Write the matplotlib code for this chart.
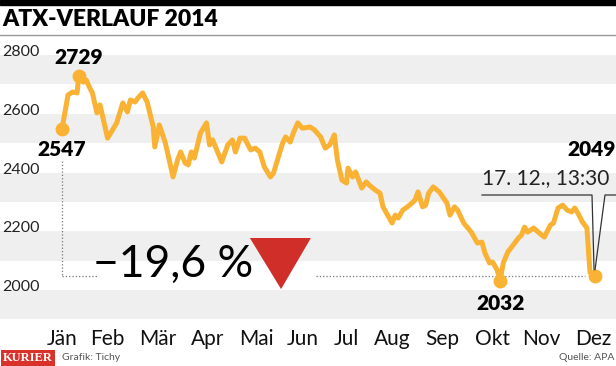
import numpy as np
import matplotlib.pyplot as plt
from matplotlib.patches import Rectangle
from matplotlib.lines import Line2D

# ATX closing values 2014 (day of year, index points)
days = [2, 6, 9, 12, 13, 16, 18, 20, 22, 25, 27, 29, 32, 38, 42, 45, 47, 50, 52, 55,
        58, 62, 63, 66, 70, 75, 78, 80, 83, 85, 87, 89, 93, 97, 99, 101, 107, 111, 114, 116,
        119, 122, 126, 129, 132, 135, 139, 141, 147, 149, 152, 154, 157, 160, 165, 168, 172, 175, 178, 181,
        183, 186, 189, 190, 193, 195, 199, 202, 204, 208, 211, 213, 216, 219, 221, 223, 226, 229, 232, 234,
        236, 239, 241, 243, 246, 250, 255, 257, 260, 262, 266, 271, 275, 278, 280, 283, 285, 288, 290, 292,
        295, 300, 302, 304, 306, 308, 312, 315, 319, 323, 325, 328, 331, 334, 337, 339, 341, 344, 347, 349,
        352]
values = [2547, 2664, 2674, 2671, 2729, 2708, 2715, 2691, 2671, 2603, 2630, 2586, 2517, 2569, 2637, 2606, 2647, 2640, 2654, 2671,
          2640, 2555, 2487, 2562, 2500, 2385, 2443, 2470, 2432, 2426, 2470, 2449, 2534, 2569, 2494, 2511, 2436, 2494, 2511, 2470,
          2517, 2517, 2477, 2483, 2470, 2419, 2385, 2398, 2500, 2521, 2504, 2534, 2569, 2551, 2555, 2545, 2521, 2483, 2494, 2528,
          2443, 2374, 2364, 2415, 2385, 2402, 2347, 2368, 2357, 2340, 2330, 2283, 2255, 2228, 2255, 2245, 2272, 2283, 2296, 2306,
          2334, 2283, 2289, 2330, 2351, 2334, 2296, 2255, 2283, 2272, 2228, 2197, 2160, 2163, 2126, 2092, 2095, 2068, 2032, 2092,
          2129, 2163, 2177, 2187, 2214, 2197, 2211, 2197, 2180, 2221, 2228, 2279, 2289, 2272, 2266, 2279, 2262, 2232, 2211, 2060,
          2049]

months = ['Jän', 'Feb', 'Mär', 'Apr', 'Mai', 'Jun', 'Jul', 'Aug', 'Sep', 'Okt', 'Nov', 'Dez']
month_pos = [2, 32, 65, 98, 130, 160, 189, 219, 252, 285, 317, 351]
yticks = [2000, 2200, 2400, 2600, 2800]
change = '\u221219,6 %'

narrow = ['Lato', 'DejaVu Sans']
orange = '#f9b233'

fig = plt.figure(figsize=(6.16, 3.66), dpi=100)
ax = fig.add_axes([0, 44 / 366, 1, 284 / 366])
ax.set_xlim(-38.7, 366.1)
ax.set_ylim(1891, 2858)

# background bands
for lo in range(1900, 2800, 200):
    ax.axhspan(lo, lo + 100, color='#efefef', lw=0, zorder=0)

for v in yticks:
    ax.annotate(str(v), xy=(0, v), xycoords=('axes fraction', 'data'),
                xytext=(2, 3), textcoords='offset pixels', va='center',
                fontsize=11.5, family=narrow, color='#222222')

# reference lines: start day and final value
i_min = int(np.argmin(values))
i_max = int(np.argmax(values))
ax.plot([days[0], days[0]], [2440, values[-1]], ls=':', color='#777777', lw=0.9, zorder=1)
ax.plot([days[0], 25], [values[-1]] * 2, ls=':', color='#777777', lw=0.9, zorder=1)
ax.plot([169, 346], [values[-1]] * 2, ls=':', color='#777777', lw=0.9, zorder=1)

ax.plot(days, values, color=orange, lw=3.6, solid_joinstyle='round', zorder=3)
for i in [0, i_max, i_min, len(days) - 1]:
    ax.plot(days[i], values[i], 'o', color=orange, ms=9, zorder=4)

bold = dict(family=narrow, weight='heavy', fontsize=15, color='black')
ax.annotate(str(values[0]), (days[0], values[0]), xytext=(0, -20), textcoords='offset pixels',
            ha='center', va='center', **bold)
ax.annotate(str(values[i_max]), (days[i_max], values[i_max]), xytext=(0, 18), textcoords='offset pixels',
            ha='center', va='center', **bold)
ax.annotate(str(values[i_min]), (days[i_min], values[i_min]), xytext=(0, -23), textcoords='offset pixels',
            ha='center', va='center', **bold)

# callout pointer down to the last value
px = lambda x: x / 616
py = lambda y: 1 - y / 366
fig.text(1.0, py(150), str(values[-1]), ha='right', va='center', **bold)
fig.text(px(482), py(178), '17. 12., 13:30', ha='left', va='center',
         fontsize=15, family=narrow, color='#222222')
fig.canvas.draw()
tip = fig.transFigure.inverted().transform(ax.transData.transform((days[-1], values[-1])))
tip_y = tip[1] + 6 / 366
fig.add_artist(Line2D([px(482), px(592), tip[0] - 0.5 / 616], [py(195), py(195), tip_y],
                      color='#333333', lw=0.9))
fig.add_artist(Line2D([px(616), px(605), tip[0] + 0.5 / 616], [py(195), py(195), tip_y],
                      color='#333333', lw=0.9))

# percentage change and red triangle
ax.text(75, 2088, change, ha='center', va='center', fontsize=32,
        family=narrow, color='black')
ax.fill([125.5, 165.6, 146], [2177, 2177, 2003], color='#cf2f28', lw=0, zorder=2)

ax.set_xticks(month_pos, months)
ax.tick_params(axis='x', length=0, pad=5, labelsize=15)
for t in ax.get_xticklabels():
    t.set_family(narrow)
    t.set_color('#111111')
ax.set_yticks([])
for s in ax.spines.values():
    s.set_visible(False)

# header
fig.add_artist(Rectangle((0, py(5)), 1, 5 / 366, transform=fig.transFigure, color='black'))
fig.text(px(2), py(20), 'ATX-VERLAUF 2014', ha='left', va='center',
         fontsize=16.5, weight='heavy', family=narrow, color='black')
fig.add_artist(Line2D([0, 1], [py(35), py(35)], color='#999999', lw=1))

# footer
fig.text(px(3), py(358), 'KURIER', ha='left', va='center', fontsize=9, weight='bold',
         family=['Liberation Serif', 'DejaVu Serif'], color='white',
         bbox=dict(boxstyle='square,pad=0.15', fc='#d8322b', ec='none'))
fig.text(px(62), py(358), 'Grafik: Tichy', ha='left', va='center', fontsize=7.5,
         family=narrow, color='#555555')
fig.text(px(614), py(358), 'Quelle: APA', ha='right', va='center', fontsize=7.5,
         family=narrow, color='#555555')

fig.savefig('out.png', dpi=100)
